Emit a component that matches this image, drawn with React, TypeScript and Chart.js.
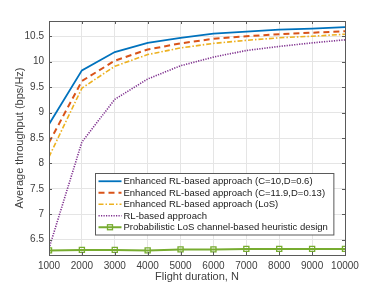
import React, { useEffect, useRef } from "react";
import { Chart, registerables } from "chart.js";

Chart.register(...registerables);

const flightDuration = [1000, 2000, 3000, 4000, 5000, 6000, 7000, 8000, 9000, 10000];
const enhancedC10 = [8.77, 9.83, 10.19, 10.37, 10.47, 10.55, 10.59, 10.63, 10.65, 10.68];
const enhancedC119 = [8.41, 9.62, 10.02, 10.24, 10.36, 10.45, 10.5, 10.54, 10.57, 10.6];
const enhancedLoS = [8.13, 9.48, 9.91, 10.14, 10.27, 10.36, 10.42, 10.47, 10.5, 10.54];
const rlBased = [6.33, 8.42, 9.26, 9.66, 9.92, 10.09, 10.22, 10.3, 10.37, 10.43];
const heuristic = [6.29, 6.3, 6.3, 6.29, 6.31, 6.31, 6.32, 6.32, 6.32, 6.32];

const seriesLabels = [
  "Enhanced RL-based approach (C=10,D=0.6)",
  "Enhanced RL-based approach (C=11.9,D=0.13)",
  "Enhanced RL-based approach (LoS)",
  "RL-based approach",
  "Probabilistic LoS channel-based heuristic design",
];
const yTicks = [6.5, 7, 7.5, 8, 8.5, 9, 9.5, 10, 10.5];
const xTicks = [1000, 2000, 3000, 4000, 5000, 6000, 7000, 8000, 9000, 10000];

const FONT = "'Liberation Sans', Arial, Helvetica, sans-serif";

const styles = [
  { color: "#0072BD", width: 1.8, dash: [] as number[], marker: false },
  { color: "#D95319", width: 2, dash: [6, 4], marker: false },
  { color: "#EDB120", width: 1.6, dash: [5, 2, 1.5, 2], marker: false },
  { color: "#7E2F8E", width: 1.6, dash: [1.2, 1.3], marker: false },
  { color: "#77AC30", width: 2, dash: [] as number[], marker: true },
];

const boxPlugin = {
  id: "boxAndLegend",
  afterDraw(chart: any) {
    const ctx = chart.ctx;
    const { left, right, top, bottom } = chart.chartArea;
    const xs = chart.scales.x;
    const ys = chart.scales.y;
    ctx.save();
    ctx.strokeStyle = "#5a5a5a";
    ctx.lineWidth = 1;
    ctx.setLineDash([]);
    ctx.strokeRect(Math.round(left) + 0.5, Math.round(top) + 0.5, Math.round(right - left), Math.round(bottom - top));
    const tl = 3;
    ctx.beginPath();
    xTicks.forEach((v) => {
      const px = Math.round(xs.getPixelForValue(v)) + 0.5;
      ctx.moveTo(px, bottom);
      ctx.lineTo(px, bottom - tl);
      ctx.moveTo(px, top);
      ctx.lineTo(px, top + tl);
    });
    yTicks.forEach((v) => {
      const py = Math.round(ys.getPixelForValue(v)) + 0.5;
      ctx.moveTo(left, py);
      ctx.lineTo(left + tl, py);
      ctx.moveTo(right, py);
      ctx.lineTo(right - tl, py);
    });
    ctx.stroke();

    // legend
    ctx.font = `9.5px ${FONT}`;
    let maxW = 0;
    seriesLabels.forEach((l) => (maxW = Math.max(maxW, ctx.measureText(l).width)));
    const sampleW = 23;
    const width = 3 + sampleW + 2 + maxW + 6;
    const rowH = 11.5;
    const height = rowH * seriesLabels.length + 4;
    const bx = Math.round(right - 12 - width) + 0.5;
    const by = Math.round(bottom - 21 - height) + 0.5;
    ctx.fillStyle = "#ffffff";
    ctx.fillRect(bx, by, width, height);
    ctx.strokeStyle = "#5a5a5a";
    ctx.lineWidth = 1;
    ctx.strokeRect(bx, by, width, height);
    seriesLabels.forEach((l, i) => {
      const st = styles[i];
      const cy = by + 2 + rowH * i + rowH / 2;
      ctx.strokeStyle = st.color;
      ctx.lineWidth = st.width;
      ctx.setLineDash(st.dash);
      ctx.beginPath();
      ctx.moveTo(bx + 3, cy);
      ctx.lineTo(bx + 3 + sampleW, cy);
      ctx.stroke();
      ctx.setLineDash([]);
      if (st.marker) {
        ctx.lineWidth = 1.3;
        ctx.strokeRect(bx + 3 + sampleW / 2 - 2.5, cy - 2.5, 5, 5);
      }
      ctx.fillStyle = "#1a1a1a";
      ctx.textBaseline = "middle";
      ctx.textAlign = "left";
      ctx.fillText(l, bx + 3 + sampleW + 2, cy + 0.5);
    });
    ctx.restore();
  },
};

export default function App() {
  const ref = useRef<HTMLCanvasElement>(null);
  useEffect(() => {
    if (!ref.current) return;
    const all = [enhancedC10, enhancedC119, enhancedLoS, rlBased, heuristic];
    const chart = new Chart(ref.current, {
      type: "line",
      data: {
        datasets: all.map((vals, i) => ({
          label: seriesLabels[i],
          data: flightDuration.map((x, j) => ({ x, y: vals[j] })),
          borderColor: styles[i].color,
          backgroundColor: styles[i].color,
          borderWidth: styles[i].width,
          borderDash: styles[i].dash,
          pointRadius: styles[i].marker ? 3.6 : 0,
          pointStyle: "rect",
          pointBorderColor: styles[i].color,
          pointBackgroundColor: "rgba(0,0,0,0)",
          pointBorderWidth: 1.3,
          tension: 0,
          fill: false,
        })),
      },
      plugins: [boxPlugin],
      options: {
        responsive: false,
        animation: false,
        devicePixelRatio: 1,
        layout: { padding: { left: 0, top: 21, right: 37, bottom: 0 } },
        plugins: { legend: { display: false }, tooltip: { enabled: false } },
        scales: {
          x: {
            type: "linear",
            min: 1000,
            max: 10000,
            afterBuildTicks: (s: any) => {
              s.ticks = xTicks.map((v) => ({ value: v }));
            },
            afterFit: (s: any) => {
              s.height = 31;
            },
            grid: { color: "#e5e5e5", drawTicks: false, lineWidth: 1 },
            border: { display: false },
            ticks: {
              color: "#404040",
              font: { family: FONT, size: 10 },
              padding: 5,
              maxRotation: 0,
              autoSkip: false,
              callback: (v: any) => String(v),
            },
            title: {
              display: true,
              text: "Flight duration, N",
              color: "#404040",
              font: { family: FONT, size: 11 },
              padding: { top: 0, bottom: 2 },
            },
          },
          y: {
            type: "linear",
            min: 6.2,
            max: 10.8,
            afterBuildTicks: (s: any) => {
              s.ticks = yTicks.map((v) => ({ value: v }));
            },
            afterFit: (s: any) => {
              s.width = 49;
            },
            grid: { color: "#e5e5e5", drawTicks: false, lineWidth: 1 },
            border: { display: false },
            ticks: {
              color: "#404040",
              font: { family: FONT, size: 10 },
              padding: 5,
              autoSkip: false,
              callback: (v: any) => String(v),
            },
            title: {
              display: true,
              text: "Average throughput (bps/Hz)",
              color: "#404040",
              font: { family: FONT, size: 11 },
              padding: { top: 13, bottom: 0 },
            },
          },
        },
      },
    } as any);
    return () => chart.destroy();
  }, []);
  return (
    <div style={{ position: "absolute", left: 0, top: 0, width: 382, height: 286, background: "#fff" }}>
      <canvas ref={ref} width={382} height={286} style={{ display: "block" }} />
    </div>
  );
}
